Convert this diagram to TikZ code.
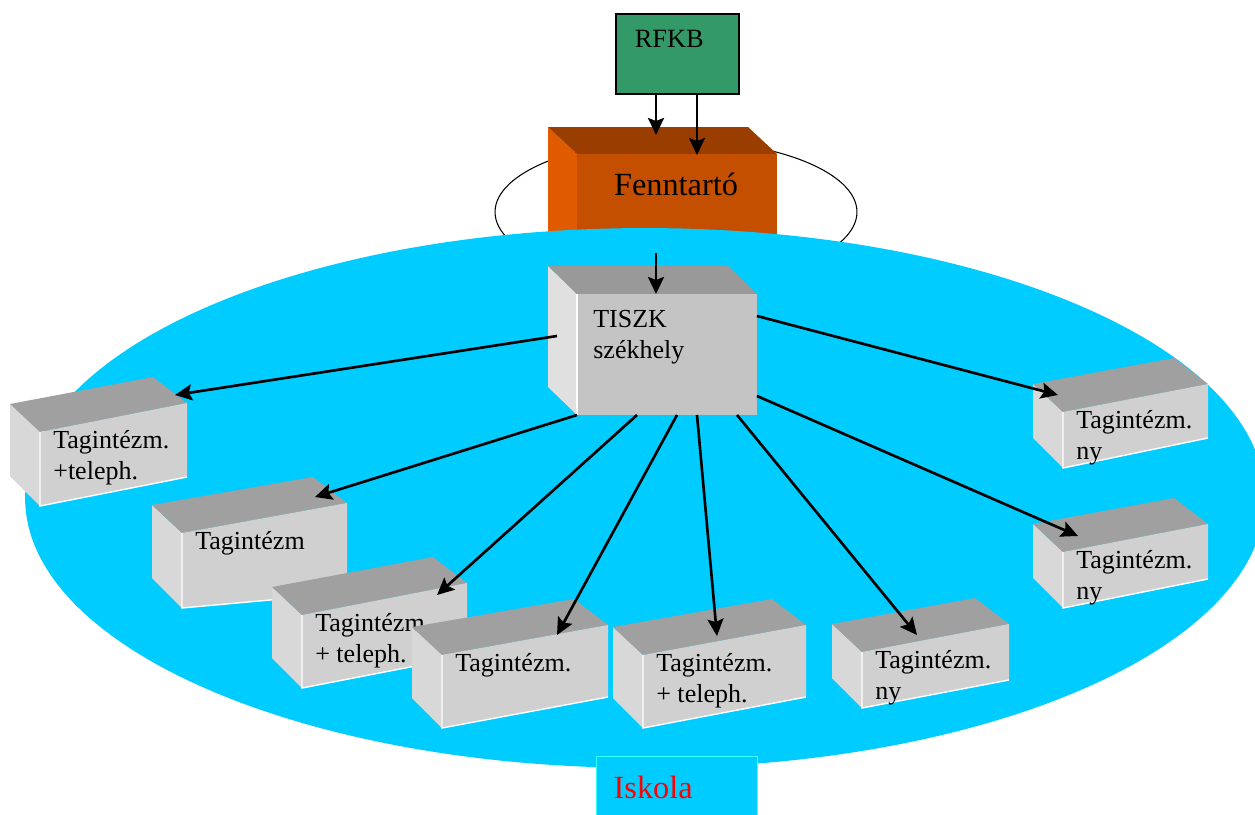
\documentclass[tikz,border=0pt]{standalone}
\usepackage{fontspec}
\setmainfont{Liberation Serif}
\usetikzlibrary{arrows.meta}

\definecolor{poolblue}{HTML}{00CCFF}
\definecolor{iskolaedge}{HTML}{33FFFF}
\definecolor{rfkbgreen}{HTML}{339966}
\definecolor{fenntop}{HTML}{993D00}
\definecolor{fennfront}{HTML}{C44F00}
\definecolor{fennside}{HTML}{E05A00}
\definecolor{tiszktop}{HTML}{999999}
\definecolor{tiszkfront}{HTML}{C4C4C4}
\definecolor{tiszkside}{HTML}{E0E0E0}
\definecolor{tagtop}{HTML}{A0A0A0}
\definecolor{tagfront}{HTML}{D0D0D0}
\definecolor{tagside}{HTML}{D8D8D8}

\tikzset{
  link/.style={line width=1.5pt, -{Stealth[length=0.34cm,width=0.32cm,inset=0.06cm]}},
  tagtext/.style={anchor=north west, inner sep=0pt, align=left, font=\fontsize{14.8}{17.6}\selectfont},
}

% name, front corner x, y, width, rise, left height, right height, text
\newcommand{\tagbox}[8]{%
  \begin{scope}[shift={(#2,#3)}]
    \fill[tagside] (0,0) -- (-30,-28) -- (-30,#6-30) -- (0,#6) -- cycle;
    \fill[tagtop] (0,0) -- (-30,-28) -- (#4-34,-#5-26) -- (#4,-#5) -- cycle;
    \fill[tagfront] (0,0) -- (#4,-#5) -- (#4,#7-#5) -- (0,#6) -- cycle;
    \draw[white, line width=0.8pt] (0,0) -- (0,#6) -- (#4,#7-#5);
    \node[tagtext] (#1) at (13,-2) {#8};
  \end{scope}}

\begin{document}
\begin{tikzpicture}[x=0.02cm, y=-0.02cm]
    \clip (0,0) rectangle (1255,815);
    \fill[white] (0,0) rectangle (1255,815);

    \draw[line width=0.6pt] (676,212) ellipse [x radius=3.62cm, y radius=1.44cm];

    % Fenntarto
    \fill[fennside] (548,127) -- (577,154) -- (577,250) -- (548,250) -- cycle;
    \fill[fenntop] (548,127) -- (748,127) -- (777,154) -- (577,154) -- cycle;
    \fill[fennfront] (577,154) rectangle (777,250);
    \node (fenn) [anchor=base, font=\fontsize{18.4}{22}\selectfont] at (676,195) {Fenntartó};

    \fill[poolblue] (645,498) ellipse [x radius=12.4cm, y radius=5.4cm];

    \node (rfkb) [anchor=north west, draw, line width=0.9pt, fill=rfkbgreen, inner xsep=0.38cm, inner ysep=0.32cm,
        text width=1.7cm, text height=0.35cm, text depth=0.61cm, align=left,
        font=\fontsize{15}{18}\selectfont] at (615,13) {RFKB};

    % TISZK
    \fill[tiszkside] (548,266) -- (577,294) -- (577,415) -- (548,387) -- cycle;
    \fill[tiszktop] (548,266) -- (728,266) -- (757,294) -- (577,294) -- cycle;
    \fill[tiszkfront] (577,294) rectangle (757,415);
    \draw[white, line width=0.8pt] (577,294) -- (577,415);
    \node (tiszk) [tagtext] at (593,310) {TISZK\\székhely};

    \tagbox{t1}{40}{432}{147}{29}{74}{74}{Tagintézm.\\+teleph.}
    \tagbox{t2}{182}{533}{165}{30}{75}{90}{Tagintézm}
    \tagbox{t3}{302}{615}{165}{32}{73}{73}{Tagintézm.\\+ teleph.}
    \tagbox{t4}{442}{655}{166}{30}{73}{72}{Tagintézm.}
    \tagbox{t5}{643}{655}{163}{30}{73}{72}{Tagintézm.\\+ teleph.}
    \tagbox{t6}{862}{652}{147}{28}{56}{56}{Tagintézm.\\ny}
    \tagbox{t7}{1063}{412}{145}{28}{56}{54}{Tagintézm.\\ny}
    \tagbox{t8}{1063}{552}{145}{28}{56}{55}{Tagintézm.\\ny}

    \node (iskola) [anchor=north west, fill=poolblue, draw=iskolaedge, line width=0.8pt,
        inner xsep=0.34cm, inner ysep=0.38cm, text width=2.54cm, align=left, text=red,
        font=\fontsize{18.4}{22}\selectfont] at (596,756) {Iskola};

    \coordinate (fenn-in1) at (656,135);
    \coordinate (fenn-in2) at (697,155);
    \coordinate (fenn-out) at (656,253);
    \coordinate (tiszk-in) at (656,294);
    \coordinate (tiszk-o1) at (557,336);
    \coordinate (tiszk-o2) at (577,415);
    \coordinate (tiszk-o3) at (637,415);
    \coordinate (tiszk-o4) at (677,415);
    \coordinate (tiszk-o5) at (697,415);
    \coordinate (tiszk-o6) at (737,415);
    \coordinate (tiszk-o7) at (757,316);
    \coordinate (tiszk-o8) at (757,396);
    \coordinate (t1-in) at (175,395);
    \coordinate (t2-in) at (315,497);
    \coordinate (t3-in) at (437,595);
    \coordinate (t4-in) at (557,635);
    \coordinate (t5-in) at (717,636);
    \coordinate (t6-in) at (917,635);
    \coordinate (t7-in) at (1058,395);
    \coordinate (t8-in) at (1078,536);

    \draw[link] (rfkb.south -| fenn-in1) -- (fenn-in1);
    \draw[link] (rfkb.south -| fenn-in2) -- (fenn-in2);
    \draw[link] (fenn-out) -- (tiszk-in);
    \foreach \i in {1,...,8}
        \draw[link] (tiszk-o\i) -- (t\i-in);
\end{tikzpicture}
\end{document}
